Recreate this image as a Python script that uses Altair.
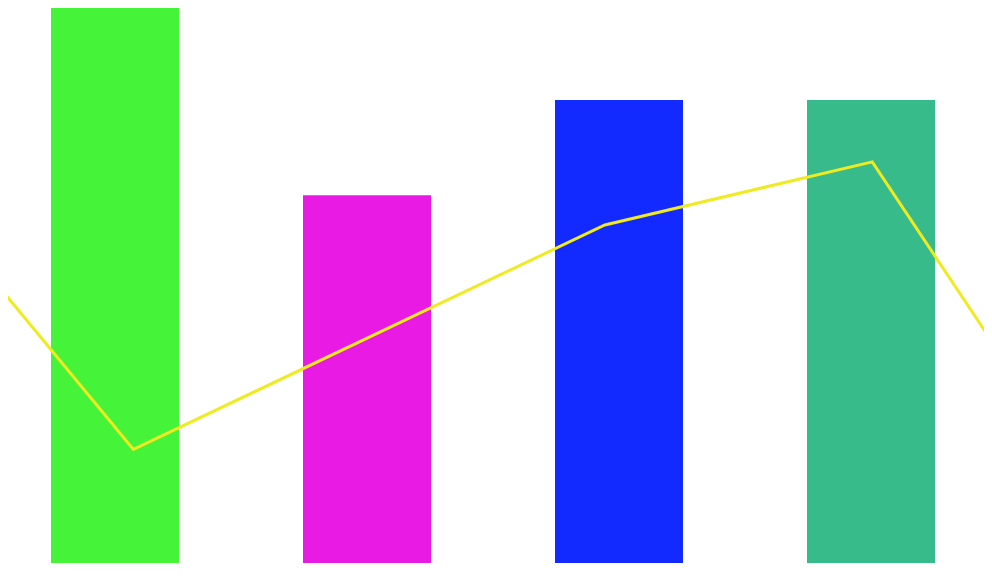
import pandas as pd
import altair as alt

# bars: position along x (in bar steps), height in value units
categories = ["A", "B", "C", "D"]
bar_pos = [1, 2, 3, 4]
bar_values = [6.0, 4.0, 5.0, 5.0]
bar_colors = ["#45F338", "#E81AE3", "#1229FF", "#37BB8B"]

# yellow line: its points sit between/over the bars
line_x = [0.552, 1.073, 2.944, 4.005, 4.468]
line_y = [3.0, 1.33, 3.687, 4.35, 2.51]

bars_df = pd.DataFrame({"cat": categories, "pos": bar_pos, "value": bar_values})
line_df = pd.DataFrame({"x": line_x, "y": line_y})

# the page margin hides the outer strip, so the domains start a little inside
x_scale = alt.Scale(domain=[0.5754, 4.4484], nice=False, zero=False, padding=0)
y_scale = alt.Scale(domain=[0.1366, 5.966], nice=False, zero=False)

bars = alt.Chart(bars_df).mark_bar(size=128, clip=True).encode(
    x=alt.X("pos:Q", scale=x_scale, axis=None),
    y=alt.Y("value:Q", scale=y_scale, axis=None),
    y2=alt.datum(0),
    color=alt.Color("cat:N", scale=alt.Scale(domain=categories, range=bar_colors), legend=None),
)

line = alt.Chart(line_df).mark_line(color="#F0EA20", strokeWidth=3, clip=True).encode(
    x=alt.X("x:Q", scale=x_scale, axis=None),
    y=alt.Y("y:Q", scale=y_scale, axis=None),
    order="x:Q",
)

chart = alt.layer(bars, line).properties(
    width=976, height=555, padding=0
).configure_view(stroke=None)

chart.save("out.html", embed_options={"renderer": "svg", "actions": False})
